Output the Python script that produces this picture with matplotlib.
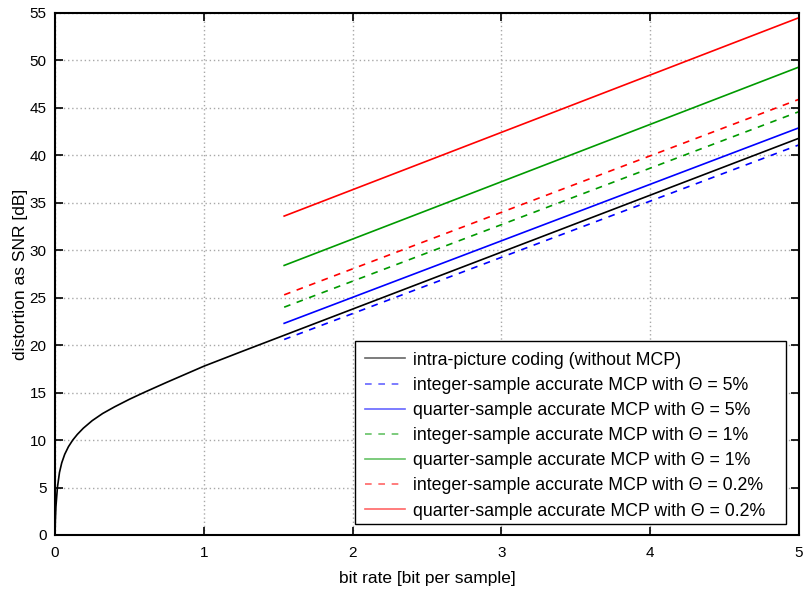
import matplotlib.pyplot as plt
from matplotlib.patches import Rectangle
import numpy as np

plt.rcParams["font.family"] = ["Liberation Sans", "DejaVu Sans"]

# intra-picture coding curve (read point by point)
intra_rate = [0, 0.002, 0.006, 0.016, 0.03, 0.045, 0.065, 0.09, 0.119, 0.15,
              0.19, 0.25, 0.32, 0.4, 0.5, 0.6, 0.75, 0.9, 1.0, 1.25, 1.5,
              2.0, 3.0, 4.0, 5.0]
intra_snr = [0, 1.5, 3.0, 5.0, 6.6, 7.6, 8.5, 9.3, 10.0, 10.6,
             11.25, 12.05, 12.8, 13.5, 14.3, 15.03, 16.08, 17.1, 17.78, 19.3,
             20.8, 23.8, 29.8, 35.8, 41.8]

# MCP lines: start / end points
mcp_rate = [1.54, 5.0]
int_5 = [20.6, 41.1]
qtr_5 = [22.3, 42.9]
int_1 = [24.0, 44.6]
qtr_1 = [28.4, 49.3]
int_02 = [25.3, 45.9]
qtr_02 = [33.6, 54.5]

GREEN = "#009a00"

fig = plt.figure(figsize=(8.07, 5.89), dpi=100)
ax = fig.add_axes([0.0682, 0.0917, 0.9218, 0.8863])

ax.plot(intra_rate, intra_snr, color="black", lw=1.2,
        label="intra-picture coding (without MCP)")
ax.plot(mcp_rate, int_5, color="blue", ls=(0, (4, 4)), lw=1.2,
        label="integer-sample accurate MCP with Θ = 5%")
ax.plot(mcp_rate, qtr_5, color="blue", lw=1.2,
        label="quarter-sample accurate MCP with Θ = 5%")
ax.plot(mcp_rate, int_1, color=GREEN, ls=(0, (4, 4)), lw=1.2,
        label="integer-sample accurate MCP with Θ = 1%")
ax.plot(mcp_rate, qtr_1, color=GREEN, lw=1.2,
        label="quarter-sample accurate MCP with Θ = 1%")
ax.plot(mcp_rate, int_02, color="red", ls=(0, (4, 4)), lw=1.2,
        label="integer-sample accurate MCP with Θ = 0.2%")
ax.plot(mcp_rate, qtr_02, color="red", lw=1.2,
        label="quarter-sample accurate MCP with Θ = 0.2%")

ax.set_xlim(0, 5)
ax.set_ylim(0, 55)
ax.set_xticks(np.arange(0, 6, 1))
ax.set_yticks(np.arange(0, 60, 5))
ax.grid(True, color="#a8a8a8", ls=(0, (1, 2)), lw=1)
ax.tick_params(direction="in", top=True, right=True, length=6, width=1.2,
               labelsize=11)
ax.tick_params(axis="x", pad=8)
ax.tick_params(axis="y", pad=6)
for s in ax.spines.values():
    s.set_linewidth(1.5)

ax.set_xlabel("bit rate [bit per sample]", fontsize=12.5, labelpad=8)
ax.set_ylabel("distortion as SNR [dB]", fontsize=12.5, labelpad=1)

# legend box is a little wider than its entries, so draw the frame separately
box_x0, box_y0, box_x1, box_y1 = 0.403, 0.0205, 0.9825, 0.3716
ax.add_patch(Rectangle((box_x0, box_y0), box_x1 - box_x0, box_y1 - box_y0,
                       transform=ax.transAxes, facecolor="white",
                       edgecolor="black", lw=1.0, zorder=4))
leg = ax.legend(loc="upper left", bbox_to_anchor=(box_x0, box_y1),
                fontsize=12.75, frameon=False, handlelength=2.25,
                handletextpad=0.45, labelspacing=0.46, borderaxespad=0,
                borderpad=0.6)
leg.set_zorder(5)
for h in leg.get_lines():
    h.set_alpha(0.6)

fig.savefig("out.png", dpi=100)
